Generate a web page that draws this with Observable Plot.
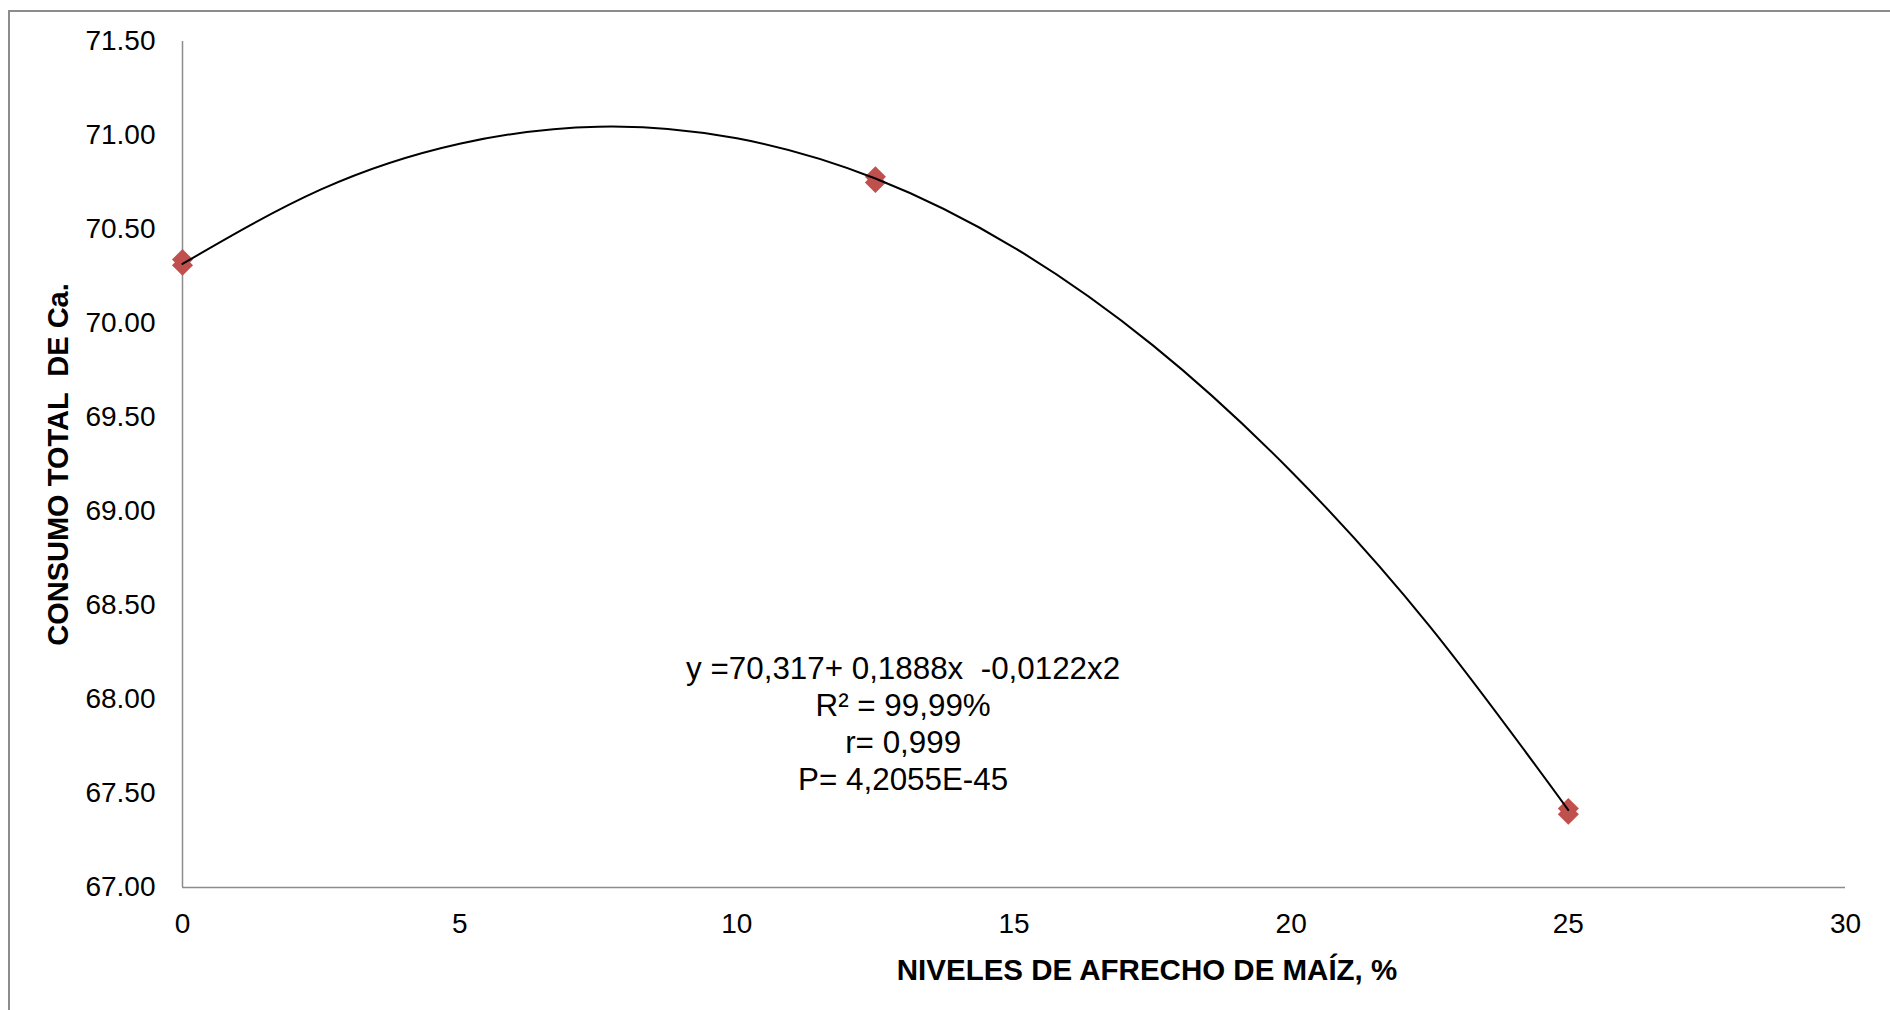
<!DOCTYPE html>
<html>
<head>
<meta charset="utf-8">
<script src="https://cdn.jsdelivr.net/npm/d3@7"></script>
<script src="https://cdn.jsdelivr.net/npm/@observablehq/plot@0.6"></script>
<style>
  html, body { margin: 0; padding: 0; background: #fff; overflow: hidden; width: 1890px; height: 1010px; }
  #frame { position: absolute; left: 8px; top: 10px; width: 2000px; height: 2000px; border: 2px solid #8c8c8c; box-sizing: border-box; }
  #chart { position: absolute; left: 0; top: 0; }
  #chart svg text { white-space: pre; }
</style>
</head>
<body>
<div id="frame"></div>
<div id="chart"></div>
<script>
// Observed points (replicates at each level)
const niveles = [0, 0, 12.5, 12.5, 25, 25];
const consumo = [70.34, 70.31, 70.78, 70.75, 67.42, 67.39];

// Trend curve
const curveX = [0, 2.5, 5, 7.5, 10, 12.5, 15, 17.5, 20, 22.5, 25];
const curveY = [70.317, 70.713, 70.956, 71.047, 70.985, 70.771, 70.404, 69.885, 69.213, 68.389, 67.412];

const xTicks = [0, 5, 10, 15, 20, 25, 30];
const yTicks = [67.0, 67.5, 68.0, 68.5, 69.0, 69.5, 70.0, 70.5, 71.0, 71.5];

const xTitle = "NIVELES DE AFRECHO DE MAÍZ, %";
const yTitle = "CONSUMO TOTAL  DE Ca.";
const eqLines = ["y =70,317+ 0,1888x  -0,0122x2", "R² = 99,99%", "r= 0,999", "P= 4,2055E-45"];

const points = niveles.map((x, i) => ({x, y: consumo[i]}));
const curve = curveX.map((x, i) => ({x, y: curveY[i]}));

const plot = Plot.plot({
  width: 1890,
  height: 1010,
  marginLeft: 182,
  marginRight: 45,
  marginTop: 41,
  marginBottom: 123,
  style: {fontFamily: "'Liberation Sans', Arial, sans-serif", fontSize: "28px", background: "transparent", color: "#000"},
  x: {domain: [0, 30]},
  y: {domain: [67, 71.5]},
  marks: [
    Plot.ruleX([0], {stroke: "#8c8c8c", strokeWidth: 1.5}),
    Plot.ruleY([67], {stroke: "#8c8c8c", strokeWidth: 1.5}),
    Plot.axisX({ticks: xTicks, tickFormat: d => String(d), tickSize: 0, tickPadding: 26, label: null, fontSize: 28}),
    Plot.axisY({ticks: yTicks, tickFormat: d => d.toFixed(2), tickSize: 0, tickPadding: 27, label: null, fontSize: 28}),
    Plot.dot(points, {x: "x", y: "y", symbol: "diamond2", r: 9.5, fill: "#C0504D", stroke: "none"}),
    Plot.line(curve, {x: "x", y: "y", curve: "natural", stroke: "#000", strokeWidth: 2}),
    Plot.text([eqLines.join("\n")], {x: () => 13.0, y: () => 67.878, text: d => d, fontFamily: "'Liberation Sans', Arial, sans-serif", fontSize: 32, lineHeight: 1.156, textAnchor: "middle", lineAnchor: "middle", fill: "#000"}),
    Plot.text([xTitle], {frameAnchor: "bottom", dx: 133, dy: 83, text: d => d, fontWeight: "bold", fontSize: 29.5, textAnchor: "middle", lineAnchor: "middle", fill: "#000"}),
    Plot.text([yTitle], {frameAnchor: "left", dx: -124, rotate: -90, text: d => d, fontWeight: "bold", fontSize: 29, textAnchor: "middle", lineAnchor: "middle", fill: "#000"})
  ]
});
document.getElementById("chart").appendChild(plot);

// Slightly condensed rendering of the regression annotation, as in the original
plot.querySelectorAll("text").forEach(t => {
  if (t.textContent.includes("70,317")) {
    const tr = t.getAttribute("transform") || "";
    t.setAttribute("transform", tr + " scale(0.98,1)");
  }
});
</script>
</body>
</html>
